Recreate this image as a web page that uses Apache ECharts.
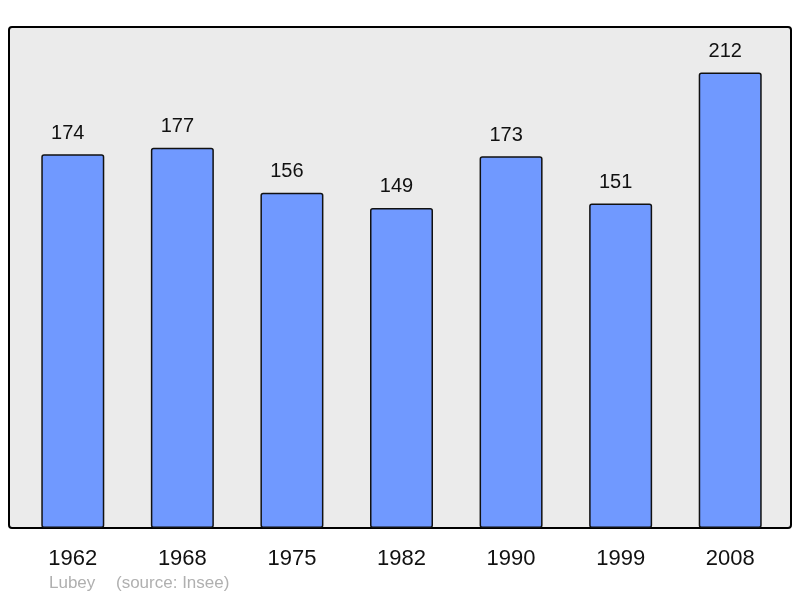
<!DOCTYPE html>
<html><head><meta charset="utf-8">
<script src="https://cdn.jsdelivr.net/npm/echarts@6/dist/echarts.min.js"></script>
<style>html,body{margin:0;padding:0;background:#fff}#c{width:800px;height:598px}</style>
</head><body><div id="c"></div>
<script>
const years = ['1962','1968','1975','1982','1990','1999','2008'];
const population = [174,177,156,149,173,151,212];
const placeName = 'Lubey';
const sourceText = '(source: Insee)';

const chart = echarts.init(document.getElementById('c'), null, {renderer:'canvas'});
chart.setOption({
  animation:false,
  textStyle:{fontFamily:'Liberation Sans, Arial, sans-serif'},
  graphic:[
    {type:'rect', z:0, shape:{x:9,y:27,width:782,height:501,r:3},
     style:{fill:'#ebebeb', stroke:'#000', lineWidth:2}},
    {type:'text', left:49, top:575, style:{text:placeName, fill:'#b0b0b0', fontSize:17, fontFamily:'Liberation Sans, Arial, sans-serif'}},
    {type:'text', left:116, top:575, style:{text:sourceText, fill:'#b0b0b0', fontSize:17, fontFamily:'Liberation Sans, Arial, sans-serif'}}
  ],
  grid:{left:18, right:15, top:27, bottom:70, containLabel:false},
  xAxis:{type:'category', data:years,
    axisLine:{show:false}, axisTick:{show:false},
    axisLabel:{fontSize:22, color:'#111', margin:20, fontFamily:'Liberation Sans, Arial, sans-serif'}},
  yAxis:{type:'value', min:0, max:233.2, show:false, splitLine:{show:false}},
  series:[{type:'bar', data:population, barWidth:63, z:2,
    itemStyle:{color:'#7099ff', borderColor:'#111', borderWidth:1.5, borderRadius:2},
    label:{show:true, position:'top', distance:11, offset:[-5,0], fontSize:20, color:'#111', fontFamily:'Liberation Sans, Arial, sans-serif'}
  }]
});
</script></body></html>
